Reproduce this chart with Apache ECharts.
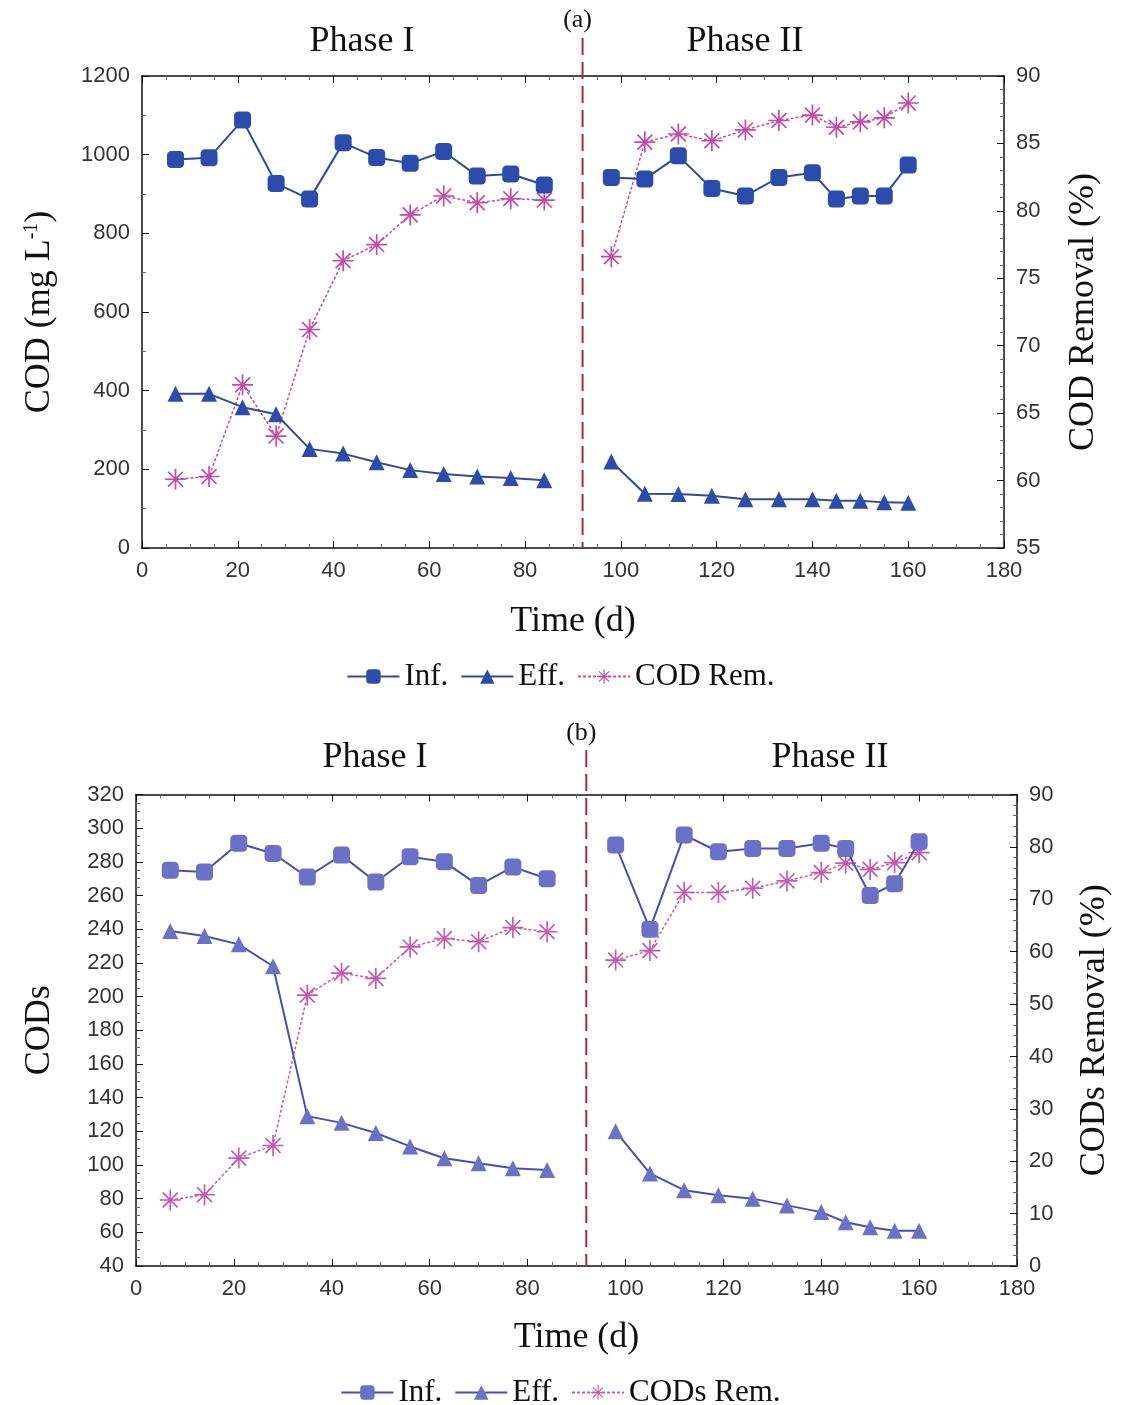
<!DOCTYPE html>
<html>
<head>
<meta charset="utf-8">
<script src="https://cdn.jsdelivr.net/npm/echarts@6/dist/echarts.min.js"></script>
<style>
html,body{margin:0;padding:0;background:#fff;}
#cod{width:1121px;height:700px;}
#cods{width:1121px;height:705px;}
</style>
</head>
<body>
<div id="cod"></div>
<div id="cods"></div>
<script>
// sampling days
var days1 = [7,14,21,28,35,42,49,56,63,70,77,84];
var days2 = [98,105,112,119,126,133,140,145,150,155,160];
var phaseSplit = 92;

// (a) total COD
var codInf1 = [988,992,1088,927,887,1030,993,978,1008,946,951,923];
var codInf2 = [942,938,997,914,895,942,954,887,895,895,974];
var codEff1 = [392,392,358,340,252,240,218,198,188,182,178,172];
var codEff2 = [220,138,137,133,124,124,124,120,120,116,115];
var codRem1 = [60.1,60.3,67.1,63.3,71.2,76.3,77.5,79.7,81.1,80.6,80.9,80.8];
var codRem2 = [76.6,85.1,85.7,85.2,86.0,86.7,87.1,86.2,86.6,86.9,88.0];

// (b) soluble COD
var codsInf1 = [275,274,291,285,271,284,268,283,280,266,277,270];
var codsInf2 = [290,240,296,286,288,288,291,288,260,267,292];
var codsEff1 = [239,236,231,218,129,125,119,111,104,101,98,97];
var codsEff2 = [120,95,85,82,80,76,72,66,63,61,61];
var codsRem1 = [12.6,13.6,20.6,23.0,51.7,55.9,54.9,60.9,62.5,61.9,64.6,63.8];
var codsRem2 = [58.4,60.2,71.3,71.3,72.1,73.5,75.1,76.9,75.7,77.0,78.9];

var serif = '"Liberation Serif", "DejaVu Serif", serif';
var sans = '"Liberation Sans", Arial, sans-serif';
var star = 'path://M9.2 0L10.8 0L10.8 20L9.2 20Z M0 9.2L20 9.2L20 10.8L0 10.8Z M3.47 2.33L17.67 16.53L16.53 17.67L2.33 3.47Z M16.53 2.33L17.67 3.47L3.47 17.67L2.33 16.53Z';

function pairs(d, v){ return d.map(function(x, i){ return [x, v[i]]; }); }
// null point in between so the line breaks at the phase change
function joined(d1, v1, d2, v2){ return pairs(d1, v1).concat([[phaseSplit, null]], pairs(d2, v2)); }

function frameAxis(extra, minorSplit){
  var a = {
    type:'value',
    axisLine:{show:true, onZero:false, lineStyle:{color:'#111', width:1.5}},
    axisTick:{show:true, inside:true, length:7, lineStyle:{color:'#111'}},
    minorTick:{show:true, splitNumber:minorSplit, length:4, lineStyle:{color:'#666'}},
    axisLabel:{margin:12, fontFamily:sans, fontSize:22, color:'#333', formatter:function(v){ return String(v); }},
    splitLine:{show:false}
  };
  for (var k in extra) a[k] = extra[k];
  return a;
}

function buildOption(c){
  var nameStyle = {fontFamily:serif, fontSize:36, color:'#111'};
  return {
    animation:false,
    grid:{left:c.grid[0], right:c.grid[1], top:c.grid[2], bottom:c.grid[3]},
    legend:{
      top:c.legendTop, left:'center', itemWidth:52, itemHeight:18, itemGap:12,
      textStyle:{fontFamily:serif, fontSize:31, color:'#111'},
      data:c.names
    },
    xAxis:[
      frameAxis({min:0, max:180, interval:20, name:'Time (d)', nameLocation:'middle', nameGap:c.xGap,
        nameTextStyle:nameStyle}, 4),
      frameAxis({position:'top', min:0, max:180, interval:20, axisLabel:{show:false}}, 4)
    ],
    yAxis:[
      frameAxis({min:c.left[0], max:c.left[1], interval:c.left[2], name:c.leftName, nameLocation:'middle',
        nameGap:c.leftGap, nameRotate:90, nameTextStyle:c.leftNameStyle}, c.left[3]),
      frameAxis({position:'right', min:c.right[0], max:c.right[1], interval:c.right[2], name:c.rightName,
        nameLocation:'middle', nameGap:c.rightGap, nameRotate:90, nameTextStyle:nameStyle}, c.right[3])
    ],
    series:[
      {name:c.names[0], type:'line', xAxisIndex:0, yAxisIndex:0, data:c.inf,
       symbol:'roundRect', symbolSize:17, lineStyle:{color:c.line, width:2}, itemStyle:{color:c.mark}, z:3},
      {name:c.names[1], type:'line', xAxisIndex:0, yAxisIndex:0, data:c.eff,
       symbol:'triangle', symbolSize:16, lineStyle:{color:c.line, width:2}, itemStyle:{color:c.mark}, z:3},
      {name:c.names[2], type:'line', xAxisIndex:0, yAxisIndex:1, data:c.rem,
       symbol:star, symbolSize:21, lineStyle:{color:c.pink, width:1.5, type:[3,2]}, itemStyle:{color:c.pink}, z:2}
    ]
  };
}

function addOverlay(chart, c){
  var px = chart.convertToPixel({xAxisIndex:0}, phaseSplit);
  var yb = chart.convertToPixel({yAxisIndex:0}, c.left[0]);
  var t = function(text, x, y, size){
    return {type:'text', x:x, y:y, style:{text:text, fontFamily:serif, fontSize:size, fill:'#111', align:'center', verticalAlign:'middle'}};
  };
  chart.setOption({graphic:[
    {type:'line', shape:{x1:px, y1:c.dashTop, x2:px, y2:yb}, style:{stroke:'#9a3434', lineWidth:2, lineDash:[17,7]}, z:1},
    t(c.tag, px - 5, c.tagY, 26),
    t('Phase I', c.p1[0], c.p1[1], 36),
    t('Phase II', c.p2[0], c.p2[1], 36)
  ]});
}

var cfgA = {
  grid:[142,117,76,152], legendTop:656, xGap:56,
  names:['Inf.','Eff.','COD Rem.'],
  left:[0,1200,200,2], right:[55,90,5,5],
  leftName:'{t|COD (mg L}{s|-1}{t|)}', leftGap:84,
  leftNameStyle:{rich:{t:{fontFamily:serif, fontSize:36, color:'#111'}, s:{fontFamily:serif, fontSize:20, color:'#111', verticalAlign:'top'}}},
  rightName:'COD Removal (%)', rightGap:62,
  inf:joined(days1, codInf1, days2, codInf2),
  eff:joined(days1, codEff1, days2, codEff2),
  rem:joined(days1, codRem1, days2, codRem2),
  line:'#2f4aa0', mark:'#2b4caa', pink:'#c24aa8',
  dashTop:38, tag:'(a)', tagY:20, p1:[362,42], p2:[745,42]
};

var cfgB = {
  grid:[136,103,94.5,139], legendTop:672, xGap:54,
  names:['Inf.','Eff.','CODs Rem.'],
  left:[40,320,20,4], right:[0,90,10,5],
  leftName:'CODs', leftGap:78,
  leftNameStyle:{fontFamily:serif, fontSize:36, color:'#111'},
  rightName:'CODs Removal (%)', rightGap:60,
  inf:joined(days1, codsInf1, days2, codsInf2),
  eff:joined(days1, codsEff1, days2, codsEff2),
  rem:joined(days1, codsRem1, days2, codsRem2),
  line:'#4650b0', mark:'#6a71c6', pink:'#c65aae',
  dashTop:50, tag:'(b)', tagY:33, p1:[375,58], p2:[830,58]
};

var chartA = echarts.init(document.getElementById('cod'));
chartA.setOption(buildOption(cfgA));
addOverlay(chartA, cfgA);

var chartB = echarts.init(document.getElementById('cods'));
chartB.setOption(buildOption(cfgB));
addOverlay(chartB, cfgB);
</script>
</body>
</html>
